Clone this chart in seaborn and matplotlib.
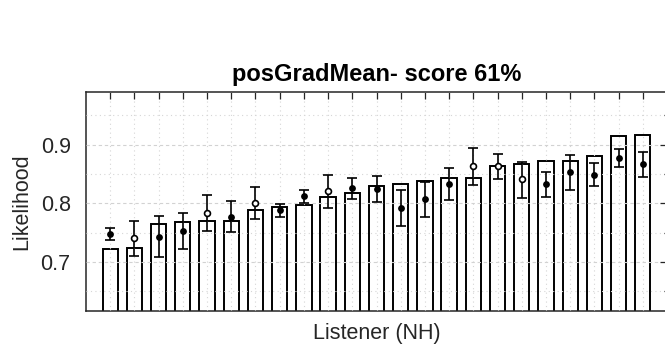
import numpy as np
import pandas as pd
import matplotlib
matplotlib.use("Agg")
import matplotlib.pyplot as plt
from matplotlib.ticker import MultipleLocator, FormatStrFormatter
import seaborn as sns

# Per-listener results (listeners sorted by bar height)
listener = list(range(1, 24))
bar_likelihood = [0.722, 0.723, 0.765, 0.7675, 0.769, 0.770, 0.788, 0.793, 0.797, 0.810,
                  0.818, 0.829, 0.833, 0.838, 0.843, 0.843, 0.864, 0.867, 0.873, 0.873,
                  0.881, 0.915, 0.917]
point_mean = [0.748, 0.740, 0.743, 0.753, 0.783, 0.777, 0.800, 0.788, 0.812, 0.821,
              0.826, 0.824, 0.792, 0.808, 0.833, 0.863, 0.864, 0.841, 0.833, 0.853,
              0.849, 0.878, 0.867]
point_upper = [0.758, 0.769, 0.778, 0.783, 0.814, 0.804, 0.827, 0.799, 0.823, 0.849,
               0.843, 0.846, 0.823, 0.837, 0.860, 0.894, 0.884, 0.871, 0.854, 0.882,
               0.868, 0.892, 0.888]
point_lower = [0.737, 0.710, 0.709, 0.722, 0.753, 0.751, 0.773, 0.776, 0.800, 0.792,
               0.808, 0.802, 0.762, 0.777, 0.806, 0.832, 0.841, 0.809, 0.810, 0.823,
               0.829, 0.862, 0.844]
open_marker = [False, True, False, False, True, False, True, False, False, True,
               False, False, False, False, False, True, True, True, False, False,
               False, False, False]

title_text = "posGradMean- score 61%"
xlabel_text = "Listener (NH)"
ylabel_text = "Likelihood"

df = pd.DataFrame({
    "listener": listener,
    "bar": bar_likelihood,
    "mean": point_mean,
    "upper": point_upper,
    "lower": point_lower,
    "open": open_marker,
})

sns.set_style("white")
plt.rcParams["font.family"] = ["Liberation Sans", "DejaVu Sans"]

ink = "#262626"
fig = plt.figure(figsize=(6.65, 3.49), dpi=100)
ax = fig.add_axes([86 / 665, 38 / 349, 581 / 665, 219 / 349])

sns.barplot(data=df, x="listener", y="bar", native_scale=True, color="white",
            saturation=1, edgecolor="black", linewidth=1.4, width=0.63,
            errorbar=None, ax=ax, zorder=1)

yerr = np.vstack([df["mean"] - df["lower"], df["upper"] - df["mean"]])
ax.errorbar(df["listener"], df["mean"], yerr=yerr, fmt="none", ecolor="black",
            elinewidth=1.2, capsize=3.8, capthick=1.2, zorder=4)

filled = df[~df["open"]]
hollow = df[df["open"]]
ax.scatter(filled["listener"], filled["mean"], s=24, color="black", zorder=5,
           linewidths=0)
ax.scatter(hollow["listener"], hollow["mean"], s=18, facecolor="white",
           edgecolor="black", linewidths=1.2, zorder=5)

ax.set_xlim(0, 24)
ax.set_ylim(0.616, 0.99)
ax.set_xticks(listener)
ax.yaxis.set_major_locator(MultipleLocator(0.1))
ax.yaxis.set_minor_locator(MultipleLocator(0.05))
ax.yaxis.set_major_formatter(FormatStrFormatter("%.1f"))

ax.tick_params(which="both", direction="in", top=True, right=True,
               color=ink, width=0.9)
ax.tick_params(axis="x", labelbottom=False)
ax.tick_params(which="major", length=4.8, labelsize=15.5, labelcolor=ink, pad=11)
ax.tick_params(which="minor", length=2.4)

ax.set_axisbelow(False)
ax.yaxis.grid(True, which="major", ls=(0, (3, 2.5)), color="#d2d2d2", lw=0.8)
ax.yaxis.grid(True, which="minor", ls=(0, (1, 3)), color="#d6d6d6", lw=0.8)
ax.xaxis.grid(True, which="major", ls=(0, (1, 3)), color="#d6d6d6", lw=0.8)

for sp in ax.spines.values():
    sp.set_color(ink)
    sp.set_linewidth(1.1)

ax.set_title(title_text, fontsize=17, fontweight="bold", color="black", pad=8)
ax.set_xlabel(xlabel_text, fontsize=15.5, color=ink, labelpad=9)
ax.set_ylabel(ylabel_text, fontsize=15.5, color=ink, labelpad=6)

fig.savefig("out.png", dpi=100)
